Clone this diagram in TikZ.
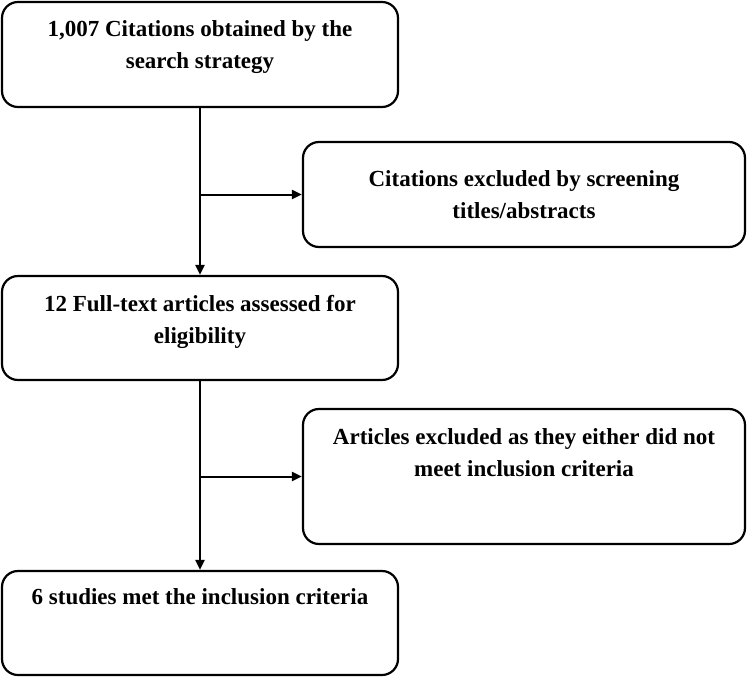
\documentclass[tikz,border=0pt]{standalone}
\usepackage{fontspec}
\setmainfont{Liberation Serif}
\usetikzlibrary{arrows.meta}
\begin{document}
\begin{tikzpicture}[x=1pt,y=1pt,
  box/.style={draw=black,line width=2.2pt,rounded corners=16pt,inner sep=0pt},
  txt/.style={anchor=north,inner sep=0pt,align=center,font=\fontsize{23}{32}\selectfont\bfseries},
  conn/.style={line width=2pt,-{Triangle[length=10pt,width=9pt]}}]
\useasboundingbox (0,0) rectangle (748,-678);
\node[box,minimum width=396pt,minimum height=105pt] (b1) at (200,-54.5) {};
\node[box,minimum width=442pt,minimum height=105pt] (b2) at (524,-194.5) {};
\node[box,minimum width=396pt,minimum height=104pt] (b3) at (200,-328) {};
\node[box,minimum width=442pt,minimum height=135pt] (b4) at (524,-476.5) {};
\node[box,minimum width=396pt,minimum height=104pt] (b5) at (200,-623) {};
\node[txt] (t1) at ([yshift=-19.5pt]b1.north) {1,007 Citations obtained by the\\search strategy};
\node[txt] (t2) at ([yshift=-29.5pt]b2.north) {Citations excluded by screening\\titles/abstracts};
\node[txt] (t3) at ([yshift=-20.5pt]b3.north) {12 Full-text articles assessed for\\eligibility};
\node[txt] (t4) at ([yshift=-20.5pt]b4.north) {Articles excluded as they either did not\\meet inclusion criteria};
\node[txt] (t5) at ([yshift=-18.5pt]b5.north) {6 studies met the inclusion criteria};
\coordinate (j1) at (b1.south |- b2.west);
\coordinate (j2) at (b3.south |- b4.west);
\draw[conn] (b1.south) -- (b3.north);
\draw[conn] (j1) -- (b2.west);
\draw[conn] (b3.south) -- (b5.north);
\draw[conn] (j2) -- (b4.west);
\end{tikzpicture}
\end{document}
